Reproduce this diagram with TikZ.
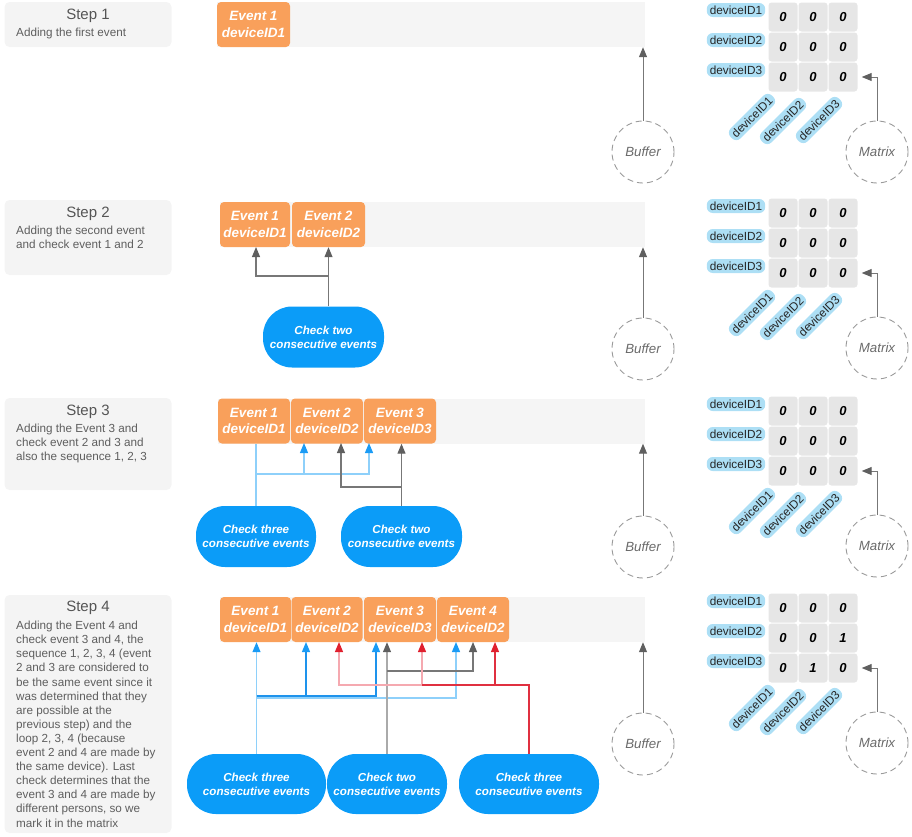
\documentclass[tikz,border=0pt]{standalone}
\usepackage{fontspec}
\setmainfont{Liberation Sans}
\usetikzlibrary{arrows.meta}
\definecolor{panelgray}{HTML}{F4F4F4}
\definecolor{bandgray}{HTML}{F5F5F5}
\definecolor{evtorange}{HTML}{F9A05B}
\definecolor{chkblue}{HTML}{0B9CF8}
\definecolor{cellgray}{HTML}{E6E6E6}
\definecolor{labblue}{HTML}{ADDFF5}
\definecolor{ringgray}{HTML}{9A9A9A}
\definecolor{ringtext}{HTML}{6A6A6A}
\definecolor{titletext}{HTML}{555555}
\definecolor{bodytext}{HTML}{5E5E5E}
\definecolor{linegray}{HTML}{777777}
\definecolor{lightgray}{HTML}{AAAAAA}
\definecolor{tipgray}{HTML}{5F5F5F}
\definecolor{lightblue}{HTML}{8ED0FA}
\definecolor{darkblue}{HTML}{1E93EC}
\definecolor{tipblue}{HTML}{1A9BF5}
\definecolor{pinkline}{HTML}{F5A9B0}
\definecolor{redline}{HTML}{E03040}
\definecolor{tipred}{HTML}{E0202E}
\newcommand\mkmatrix[4]{%
  \foreach \r/\yy in {1/10,2/40,3/70}{\node[lab] (#1l\r) at (736,{\yy+#2}) {deviceID\r};}
  \node[cell] (#1c11) at (783,{17+#2}) {0};
  \node[cell] (#1c12) at (813,{17+#2}) {0};
  \node[cell] (#1c13) at (843,{17+#2}) {0};
  \node[cell] (#1c21) at (783,{47+#2}) {0};
  \node[cell] (#1c22) at (813,{47+#2}) {0};
  \node[cell] (#1c23) at (843,{47+#2}) {#3};
  \node[cell] (#1c31) at (783,{77+#2}) {0};
  \node[cell] (#1c32) at (813,{77+#2}) {#4};
  \node[cell] (#1c33) at (843,{77+#2}) {0};
  \node[lab,rotate=45] (#1k1) at (752,{117+#2}) {deviceID1};
  \node[lab,rotate=45] (#1k2) at (783,{121+#2}) {deviceID2};
  \node[lab,rotate=45] (#1k3) at (819,{120+#2}) {deviceID3};
  \node[ring] (#1ring) at (877,{152+#2}) {Matrix};
  \draw[garrow] (#1ring.north) |- ([xshift=4pt]#1c33.east);
}
\newcommand\mkbuffer[3]{%
  \node[ring] (#1) at (643,{152+#2}) {Buffer};
  \draw[garrow] (#1.north) -- (#1.north |- #3.south);
}
\begin{document}
\begin{tikzpicture}[x=1pt,y=-1pt,
  panel/.style={fill=panelgray, rounded corners=5pt, inner sep=0pt, minimum width=167pt},
  steptitle/.style={font=\fontsize{15}{17}\selectfont, text=titletext, inner sep=0pt},
  stepbody/.style={font=\fontsize{11.7}{14.1}\selectfont, text=bodytext, inner sep=0pt, align=left, anchor=north west},
  band/.style={fill=bandgray, inner sep=0pt, minimum height=45pt},
  evt/.style={fill=evtorange, rounded corners=4pt, text=white, font=\fontsize{13.5}{16.5}\selectfont\bfseries\itshape, align=center, minimum height=45pt, inner sep=0pt},
  chk/.style={fill=chkblue, rounded corners=29pt, text=white, font=\fontsize{11.6}{14.2}\selectfont\bfseries\itshape, align=center, minimum height=61pt, inner sep=0pt},
  ring/.style={circle, draw=ringgray, line width=0.9pt, dash pattern=on 6pt off 4pt, minimum size=62pt, inner sep=0pt, font=\fontsize{13.3}{15}\selectfont\itshape, text=ringtext},
  cell/.style={fill=cellgray, rounded corners=3pt, minimum size=29pt, inner sep=0pt, font=\fontsize{13}{15}\selectfont\bfseries\itshape, text=black},
  lab/.style={fill=labblue, rounded corners=6pt, inner xsep=3pt, inner ysep=0pt, minimum height=14pt, minimum width=58pt, font=\fontsize{11.8}{13}\selectfont, text=black!85},
  garrow/.style={draw=linegray, line width=1pt, -{Triangle[length=10pt,width=8pt,color=tipgray]}},
  gline/.style={draw=linegray, line width=1.1pt},
  lgline/.style={draw=lightgray, line width=1.2pt},
  bline/.style={draw=lightblue, line width=1.2pt},
  dbline/.style={draw=darkblue, line width=1.2pt},
  pline/.style={draw=pinkline, line width=1.2pt},
  rline/.style={draw=redline, line width=1.1pt},
  gtip/.style={-{Triangle[length=10pt,width=8pt,color=tipgray]}},
  btip/.style={-{Triangle[length=10pt,width=8pt,color=tipblue]}},
  rtip/.style={-{Triangle[length=10pt,width=8pt,color=tipred]}},
  rtips/.style={{Triangle[length=10pt,width=8pt,color=tipred]}-{Triangle[length=10pt,width=8pt,color=tipred]}}
]
\useasboundingbox (0,0) rectangle (912,836);

% ---------- Step 1 ----------
\node[panel, minimum height=45pt] (s1) at (88,24.5) {};
\node[steptitle] (s1t) at (88,16) {Step 1};
\node[stepbody] (s1b) at (16,28) {Adding the first event};
\node[band, minimum width=428pt] (b1) at (431,24.5) {};
\node[evt, minimum width=73pt] (e11) at (253.5,24.5) {Event 1\\deviceID1};
\mkbuffer{buf1}{0}{b1}
\mkmatrix{ma}{0}{0}{0}

% ---------- Step 2 ----------
\node[panel, minimum height=75pt] (s2) at (88,237.5) {};
\node[steptitle] (s2t) at (88,214) {Step 2};
\node[stepbody] (s2b) at (16,226) {Adding the second event\\and check event 1 and 2};
\node[band, minimum width=425pt] (b2) at (432.5,224.5) {};
\node[evt, minimum width=70pt] (e21) at (255,224.5) {Event 1\\deviceID1};
\node[evt, minimum width=73pt] (e22) at (328.5,224.5) {Event 2\\deviceID2};
\node[chk, minimum width=121pt] (p2) at (323.5,337) {Check two\\consecutive events};
\coordinate (j2) at (256,276);
\coordinate (t21) at (256,247);
\draw[gline,gtip] (e22.south |- p2.north) -- (e22.south);
\draw[gline,gtip] (j2 -| e22.south) -| (t21);
\mkbuffer{buf2}{197}{b2}
\mkmatrix{mb}{196}{0}{0}

% ---------- Step 3 ----------
\node[panel, minimum height=92pt] (s3) at (88,444) {};
\node[steptitle] (s3t) at (88,412) {Step 3};
\node[stepbody] (s3b) at (16,424) {Adding the Event 3 and\\check event 2 and 3 and\\also the sequence 1, 2, 3};
\node[band, minimum width=427pt] (b3) at (431.5,421) {};
\node[evt, minimum width=72pt] (e31) at (254,421) {Event 1\\deviceID1};
\node[evt, minimum width=72pt] (e32) at (327,421) {Event 2\\deviceID2};
\node[evt, minimum width=72pt] (e33) at (400,421) {Event 3\\deviceID3};
\node[chk, minimum width=120pt] (p31) at (256,536.5) {Check three\\consecutive events};
\node[chk, minimum width=121pt] (p32) at (401.5,536.5) {Check two\\consecutive events};
\coordinate (j3a) at (256,474);
\coordinate (t3b1) at (304,443);
\coordinate (t3b2) at (369,443);
\coordinate (j3b) at (401.5,487);
\coordinate (t3g1) at (341,443);
\draw[bline] (p31.north) -- (p31.north |- e31.south);
\draw[bline,btip] (j3a) -| (t3b1);
\draw[bline,btip] (j3a) -| (t3b2);
\draw[gline,gtip] (p32.north) -- (p32.north |- e33.south);
\draw[gline,gtip] (j3b) -| (t3g1);
\mkbuffer{buf3}{395}{b3}
\mkmatrix{mc}{394}{0}{0}

% ---------- Step 4 ----------
\node[panel, minimum height=238pt] (s4) at (88,714) {};
\node[steptitle] (s4t) at (88,608) {Step 4};
\node[stepbody] (s4b) at (16,621) {Adding the Event 4 and\\check event 3 and 4, the\\sequence 1, 2, 3, 4 (event\\2 and 3 are considered to\\be the same event since it\\was determined that they\\are possible at the\\previous step) and the\\loop 2, 3, 4 (because\\event 2 and 4 are made by\\the same device). Last\\check determines that the\\event 3 and 4 are made by\\different persons, so we\\mark it in the matrix};
\node[band, minimum width=425pt] (b4) at (432.5,619.5) {};
\node[evt, minimum width=71pt] (e41) at (255.5,619.5) {Event 1\\deviceID1};
\node[evt, minimum width=71pt] (e42) at (327,619.5) {Event 2\\deviceID2};
\node[evt, minimum width=72pt] (e43) at (400,619.5) {Event 3\\deviceID3};
\node[evt, minimum width=72pt] (e44) at (473,619.5) {Event 4\\deviceID2};
\node[chk, minimum width=139pt, minimum height=60pt] (p41) at (256.5,784) {Check three\\consecutive events};
\node[chk, minimum width=120pt, minimum height=60pt] (p42) at (387,784) {Check two\\consecutive events};
\node[chk, minimum width=140pt, minimum height=60pt] (p43) at (529,784) {Check three\\consecutive events};
\coordinate (j4lb) at (256.5,698);
\coordinate (j4db) at (256.5,696);
\coordinate (t4b2) at (306,642);
\coordinate (t4b3) at (376,642);
\coordinate (t4b4) at (456,642);
\coordinate (j4g) at (387,671);
\coordinate (t4g2) at (473,642);
\coordinate (t4r1) at (339,642);
\coordinate (j4p) at (422,685);
\coordinate (t4r2) at (422,642);
\coordinate (j4r) at (495,685);
\coordinate (t4r3) at (495,642);
% blue: sequence 1,2,3,4
\draw[bline,btip] (p41.north) -- (p41.north |- e41.south);
\draw[bline,btip] (j4lb) -| (t4b4);
\draw[dbline,btip] (j4db) -| (t4b2);
\draw[dbline,btip] (j4db) -| (t4b3);
% gray: events 3 and 4
\draw[lgline,gtip] (p42.north) -- (p42.north |- e43.south);
\draw[gline,gtip] (j4g) -| (t4g2);
% red: loop 2,3,4
\draw[pline,rtips] (t4r1) |- (j4p) -- (t4r2);
\draw[rline] (p43.north) |- (j4p);
\draw[rline,rtip] (j4r) -- (t4r3);
\mkbuffer{buf4}{592}{b4}
\mkmatrix{md}{591}{1}{1}
\end{tikzpicture}
\end{document}
